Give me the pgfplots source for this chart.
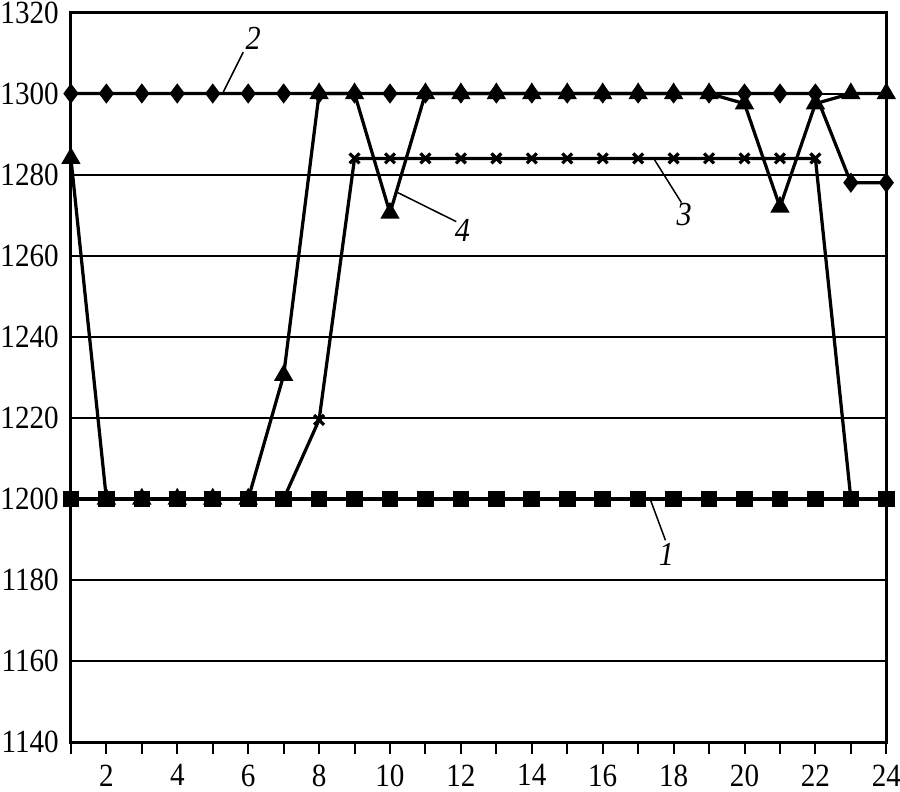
\documentclass[border=0pt]{standalone}
\usepackage{fontspec}
\setmainfont[FakeStretch=0.9]{Liberation Serif}
\usepackage{pgfplots}
\pgfplotsset{compat=1.18}
\begin{document}
\fontsize{13.5pt}{16pt}\selectfont
\begin{tikzpicture}
\begin{axis}[
  scale only axis,
  width=327.6pt, height=293.2pt,
  xmin=1, xmax=24, ymin=1140, ymax=1320,
  xtick={1,...,24},
  xticklabels={,2,,4,,6,,8,,10,,12,,14,,16,,18,,20,,22,,24},
  ytick={1140,1160,...,1320},
  /pgf/number format/assume math mode=true,
  /pgf/number format/set thousands separator={},
  ymajorgrids,
  grid style={black, line width=0.8pt},
  axis line style={black, line width=1.2pt},
  x tick style={black, line width=0.8pt},
  xtick pos=bottom, tick align=outside,
  major tick length=4.8pt,
  y tick style={draw=none},
  ytick pos=left,
  tick label style={font=\fontsize{13pt}{16pt}\selectfont},
  yticklabel style={xshift=4.6pt},
  xticklabel style={yshift=0.5pt},
  clip=false,
]
% series 2 (diamonds)
\addplot[black, line width=1.3pt, mark=diamond*, mark size=3pt] coordinates {
(1,1300)(2,1300)(3,1300)(4,1300)(5,1300)(6,1300)(7,1300)(8,1300)(9,1300)(10,1300)(11,1300)(12,1300)(13,1300)(14,1300)(15,1300)(16,1300)(17,1300)(18,1300)(19,1300)(20,1300)(21,1300)(22,1300)(23,1278)(24,1278)};
% series 3 (crosses)
\addplot[black, line width=1.3pt, mark=x, mark size=2.8pt, mark options={line width=1.3pt}] coordinates {
(1,1200)(2,1200)(3,1200)(4,1200)(5,1200)(6,1200)(7,1200)(8,1219.5)(9,1284)(10,1284)(11,1284)(12,1284)(13,1284)(14,1284)(15,1284)(16,1284)(17,1284)(18,1284)(19,1284)(20,1284)(21,1284)(22,1284)(23,1200)(24,1200)};
% series 1 (squares)
\addplot[black, line width=1.3pt, mark=square*, mark size=2.7pt] coordinates {
(1,1200)(2,1200)(3,1200)(4,1200)(5,1200)(6,1200)(7,1200)(8,1200)(9,1200)(10,1200)(11,1200)(12,1200)(13,1200)(14,1200)(15,1200)(16,1200)(17,1200)(18,1200)(19,1200)(20,1200)(21,1200)(22,1200)(23,1200)(24,1200)};
% series 4 (triangles)
\addplot[black, line width=1.3pt, mark=triangle*, mark size=3.2pt] coordinates {
(1,1284)(2,1200)(3,1200)(4,1200)(5,1200)(6,1200)(7,1230.5)(8,1300)(9,1300)(10,1270.5)(11,1300)(12,1300)(13,1300)(14,1300)(15,1300)(16,1300)(17,1300)(18,1300)(19,1300)(20,1297.5)(21,1272)(22,1297.5)(23,1300)(24,1300)};
% annotations
\draw[line width=0.6pt] (axis cs:5.30,1300.4) -- (axis cs:5.86,1310.2);
\node[font=\itshape] at (axis cs:6.14,1313.6) {2};
\draw[line width=0.6pt] (axis cs:10.21,1275.6) -- (axis cs:11.87,1268.4);
\node[font=\itshape] at (axis cs:12.04,1266.3) {4};
\draw[line width=0.6pt] (axis cs:17.35,1199.7) -- (axis cs:17.77,1189.8);
\node[font=\itshape] at (axis cs:17.80,1186.2) {1};
\draw[line width=0.6pt] (axis cs:17.43,1284.1) -- (axis cs:18.22,1273.1);
\node[font=\itshape] at (axis cs:18.30,1270.1) {3};
\end{axis}
\pgfresetboundingbox
\path (current axis.south west) ++(-28.5pt,-20pt) coordinate (bbA);
\path (current axis.north east) ++(5.5pt,5pt) coordinate (bbB);
\useasboundingbox (bbA) rectangle (bbB);
\end{tikzpicture}
\end{document}
